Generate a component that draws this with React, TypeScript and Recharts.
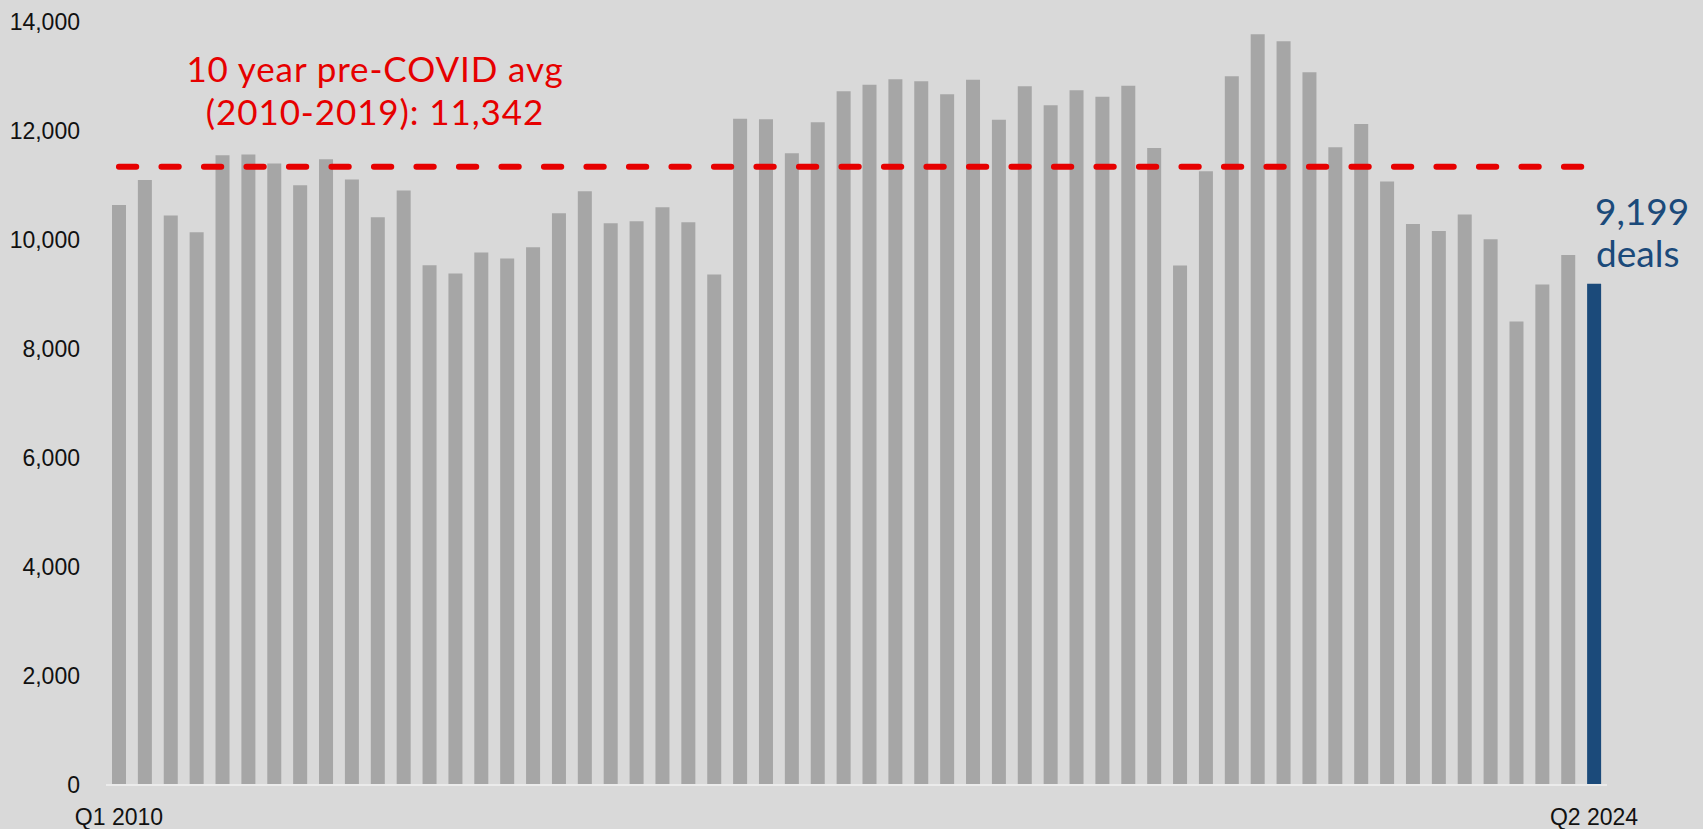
import { ComposedChart, Bar, Line, XAxis, YAxis, Cell } from 'recharts';

// Quarterly deal count, Q1 2010 .. Q2 2024
const quarters = [
  'Q1 2010', 'Q2 2010', 'Q3 2010', 'Q4 2010',
  'Q1 2011', 'Q2 2011', 'Q3 2011', 'Q4 2011',
  'Q1 2012', 'Q2 2012', 'Q3 2012', 'Q4 2012',
  'Q1 2013', 'Q2 2013', 'Q3 2013', 'Q4 2013',
  'Q1 2014', 'Q2 2014', 'Q3 2014', 'Q4 2014',
  'Q1 2015', 'Q2 2015', 'Q3 2015', 'Q4 2015',
  'Q1 2016', 'Q2 2016', 'Q3 2016', 'Q4 2016',
  'Q1 2017', 'Q2 2017', 'Q3 2017', 'Q4 2017',
  'Q1 2018', 'Q2 2018', 'Q3 2018', 'Q4 2018',
  'Q1 2019', 'Q2 2019', 'Q3 2019', 'Q4 2019',
  'Q1 2020', 'Q2 2020', 'Q3 2020', 'Q4 2020',
  'Q1 2021', 'Q2 2021', 'Q3 2021', 'Q4 2021',
  'Q1 2022', 'Q2 2022', 'Q3 2022', 'Q4 2022',
  'Q1 2023', 'Q2 2023', 'Q3 2023', 'Q4 2023',
  'Q1 2024', 'Q2 2024',
];

const deals = [
  10640, 11100, 10450, 10140, 11554, 11567, 11402, 11004,
  11481, 11108, 10417, 10906, 9537, 9384, 9769, 9659,
  9867, 10490, 10894, 10307, 10344, 10601, 10325, 9366,
  12227, 12214, 11591, 12159, 12728, 12850, 12948, 12911,
  12673, 12942, 12208, 12820, 12471, 12746, 12630, 12832,
  11689, 9531, 11261, 13003, 13773, 13645, 13076, 11701,
  12129, 11072, 10294, 10166, 10466, 10014, 8504, 9183,
  9726, 9199,
];

const preCovidAvg = 11342;
const yTicks = [0, 2000, 4000, 6000, 8000, 10000, 12000, 14000];
const xTicks = ['Q1 2010', 'Q2 2024'];

const AXIS_FONT = '"Liberation Sans", Arial, sans-serif';
const NOTE_FONT = 'Lato, "Noto Sans", sans-serif';
const W = 1703;
const H = 829;

const chartData = quarters.map((q, i) => ({ quarter: q, deals: deals[i], avg: preCovidAvg }));

export default function App() {
  const last = deals.length - 1;
  return (
    <div style={{ position: 'fixed', left: 0, top: 0, width: W, height: H, background: '#d9d9d9' }}>
      <ComposedChart
        width={W}
        height={H}
        data={chartData}
        margin={{ top: 22, right: 96, bottom: 0, left: 0 }}
      >
        <XAxis
          dataKey="quarter"
          ticks={xTicks}
          interval={0}
          height={44}
          tickSize={0}
          tickMargin={24}
          axisLine={{ stroke: '#ebebeb', strokeWidth: 2 }}
          tickLine={false}
          tick={{ fontSize: 23, fill: '#111', fontFamily: AXIS_FONT }}
        />
        <YAxis
          width={106}
          domain={[0, 14000]}
          ticks={yTicks}
          tickSize={0}
          tickMargin={26}
          axisLine={false}
          tickLine={false}
          tickFormatter={(v: number) => v.toLocaleString('en-US')}
          tick={{ fontSize: 23, fill: '#111', fontFamily: AXIS_FONT }}
        />
        <Bar dataKey="deals" barSize={14} isAnimationActive={false}>
          {chartData.map((_, i) => (
            <Cell key={i} fill={i === last ? '#1b4a7a' : '#a6a6a6'} />
          ))}
        </Bar>
        <Line
          dataKey="avg"
          stroke="#e60000"
          strokeWidth={6}
          strokeDasharray="17.3 25.2"
          strokeLinecap="round"
          dot={false}
          activeDot={false}
          isAnimationActive={false}
        />
      </ComposedChart>
      <svg width={W} height={H} style={{ position: 'absolute', left: 0, top: 0, pointerEvents: 'none' }}>
        <g fontFamily={NOTE_FONT} fontSize={35} fill="#e60000" textAnchor="middle" letterSpacing={0.9}>
          <text x={375} y={82}>10 year pre-COVID avg</text>
          <text x={375} y={125}>(2010-2019): 11,342</text>
        </g>
        <g fontFamily={NOTE_FONT} fontSize={37} fill="#1b4a7a" textAnchor="start">
          <text x={1595} y={225}>9,199</text>
          <text x={1596} y={267}>deals</text>
        </g>
      </svg>
    </div>
  );
}
